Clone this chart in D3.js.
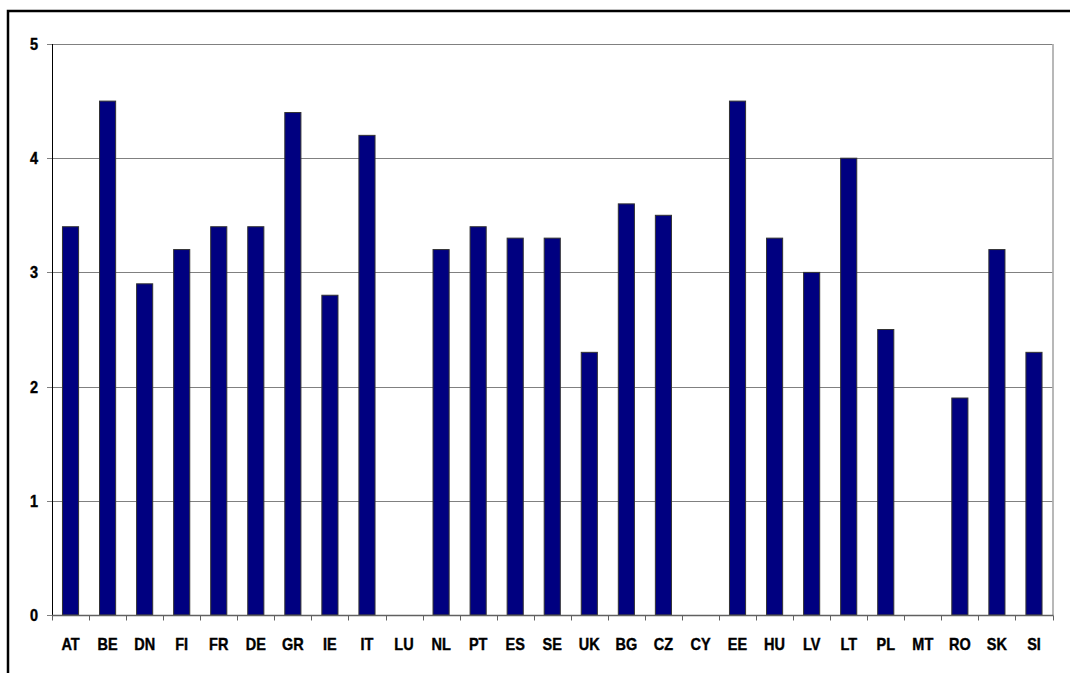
<!DOCTYPE html>
<html>
<head>
<meta charset="utf-8">
<script src="https://cdn.jsdelivr.net/npm/d3@7"></script>
<style>
  html, body { margin: 0; padding: 0; background: #fff; }
  svg { display: block; }
  text { font-family: "Liberation Sans", Arial, sans-serif; font-weight: bold; fill: #000; stroke: #000; stroke-width: 0.35px; }
</style>
</head>
<body>
<svg id="chart" width="1070" height="673"></svg>
<script>
// Country codes along the category axis
const countries = ["AT","BE","DN","FI","FR","DE","GR","IE","IT","LU","NL","PT","ES","SE",
                   "UK","BG","CZ","CY","EE","HU","LV","LT","PL","MT","RO","SK","SI"];
// One value per country; null where no figure is available
const values = [3.4, 4.5, 2.9, 3.2, 3.4, 3.4, 4.4, 2.8, 4.2, null, 3.2, 3.4, 3.3, 3.3,
                2.3, 3.6, 3.5, null, 4.5, 3.3, 3.0, 4.0, 2.5, null, 1.9, 3.2, 2.3];
const yTicks = [0, 1, 2, 3, 4, 5];

const svg = d3.select("#chart");
const fontSize = 14.5, stretch = 1.12;

// Outer frame (runs off the right and bottom edges)
svg.append("rect")
  .attr("x", 8).attr("y", 11)
  .attr("width", 1100).attr("height", 700)
  .attr("fill", "none").attr("stroke", "#000").attr("stroke-width", 2.5);

const plot = { left: 52, right: 1052.5, top: 44, bottom: 615 };

const x = d3.scaleBand().domain(countries).range([plot.left, plot.right]).paddingInner(0).paddingOuter(0);
const y = d3.scaleLinear().domain([0, 5]).range([plot.bottom, plot.top]);

// Horizontal gridlines with short outward ticks on the left
svg.append("g").selectAll("line").data(yTicks.filter(d => d > 0)).join("line")
  .attr("x1", plot.left - 5).attr("x2", plot.right)
  .attr("y1", d => Math.round(y(d)) + 0.5).attr("y2", d => Math.round(y(d)) + 0.5)
  .attr("stroke", "#808080").attr("stroke-width", 1);

// Right border of the plot area
svg.append("line")
  .attr("x1", plot.right + 0.5).attr("x2", plot.right + 0.5)
  .attr("y1", plot.top).attr("y2", plot.bottom)
  .attr("stroke", "#a0a0a0").attr("stroke-width", 1.5);

// Bars
const bw = x.bandwidth() / 2.3;
svg.append("g").selectAll("rect")
  .data(countries.map((c, i) => ({ c, v: values[i] })).filter(d => d.v != null))
  .join("rect")
  .attr("x", d => x(d.c) + (x.bandwidth() - bw) / 2)
  .attr("width", bw)
  .attr("y", d => y(d.v))
  .attr("height", d => y(0) - y(d.v))
  .attr("fill", "#000080")
  .attr("stroke", "#333")
  .attr("stroke-width", 1);

// Y axis line and tick marks
svg.append("line")
  .attr("x1", plot.left + 0.5).attr("x2", plot.left + 0.5)
  .attr("y1", plot.top).attr("y2", plot.bottom + 1)
  .attr("stroke", "#000");
svg.append("g").selectAll("line").data(yTicks).join("line")
  .attr("x1", plot.left - 5).attr("x2", plot.left)
  .attr("y1", d => Math.round(y(d)) + 0.5).attr("y2", d => Math.round(y(d)) + 0.5)
  .attr("stroke", "#808080");

// Y tick labels (slightly tall lettering)
svg.append("g").selectAll("g").data(yTicks).join("g")
  .attr("transform", d => `translate(38,${y(d) + 6})`)
  .append("text")
  .attr("transform", `scale(1,${stretch})`)
  .attr("text-anchor", "end")
  .attr("font-size", fontSize)
  .text(d => d3.format("d")(d));

// X axis: ticks at category boundaries, labels centred in each band
const gx = svg.append("g").attr("transform", `translate(0,${plot.bottom + 0.5})`);
gx.append("line")
  .attr("x1", plot.left).attr("x2", plot.right + 1)
  .attr("stroke", "#606060").attr("stroke-width", 1.5);
const bounds = countries.map(c => x(c)).concat([plot.right]);
gx.selectAll("line.tk").data(bounds).join("line").attr("class", "tk")
  .attr("x1", d => Math.round(d) + 0.5).attr("x2", d => Math.round(d) + 0.5)
  .attr("y1", 0).attr("y2", 5)
  .attr("stroke", "#606060");
gx.selectAll("g.lbl").data(countries).join("g").attr("class", "lbl")
  .attr("transform", d => `translate(${x(d) + x.bandwidth() / 2},34)`)
  .append("text")
  .attr("transform", `scale(1,${stretch})`)
  .attr("text-anchor", "middle")
  .attr("font-size", fontSize)
  .text(d => d);
</script>
</body>
</html>
